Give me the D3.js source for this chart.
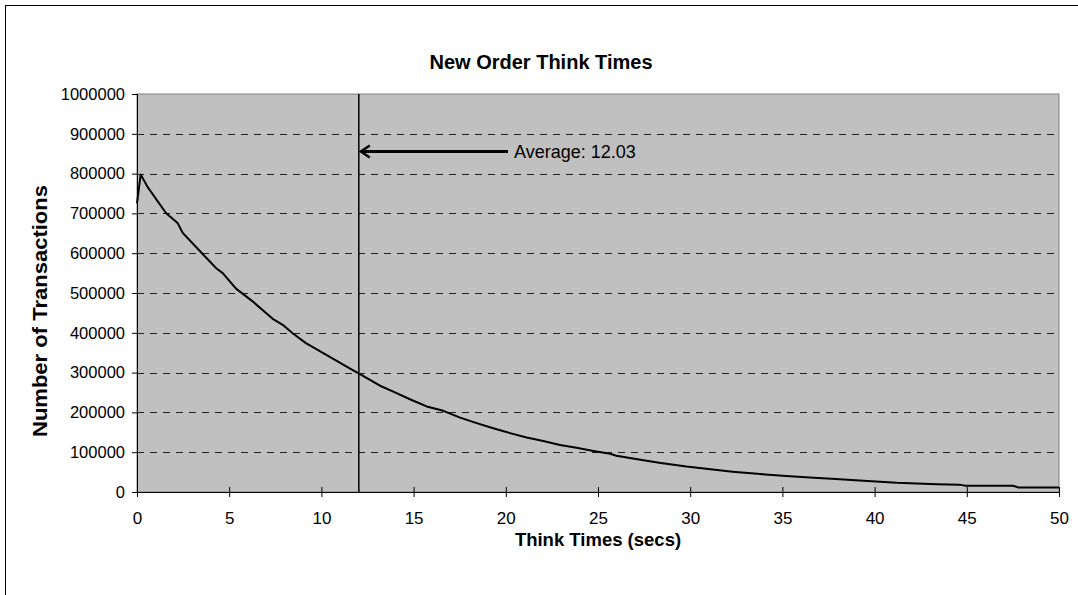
<!DOCTYPE html>
<html>
<head>
<meta charset="utf-8">
<script src="https://cdn.jsdelivr.net/npm/d3@7"></script>
<style>
  html, body { margin: 0; padding: 0; background: #fff; }
  svg { display: block; font-family: "Liberation Sans", Arial, sans-serif; }
</style>
</head>
<body>
<svg id="chart" width="1078" height="595"></svg>
<script>
// ---- Data ----
const thinkTimes = [0, 0.2, 0.58, 1.57, 2.2, 2.48, 3.56, 4.28, 4.65, 5.37, 6.27, 7.36, 7.9, 8.44, 9.16,
  10.43, 11.51, 12.09, 13.18, 13.9, 14.8, 15.71, 16.61, 17.52, 18.42, 19.32, 20.23, 21.13, 22.03,
  22.94, 23.84, 24.75, 25.65, 26.0, 27.3, 28.4, 29.8, 31.1, 32.3, 33.8, 35.2, 36.7, 37.9, 39.4,
  41.2, 43.4, 44.6, 44.9, 47.5, 47.8, 50];
const transactions = [725000, 798000, 766000, 701000, 676000, 651000, 598000, 563000, 550000, 511000,
  479000, 435000, 420000, 399000, 374000, 340000, 311000, 296000, 267000, 252000, 233000, 215000,
  204000, 187000, 173000, 160000, 148000, 137000, 128000, 118000, 111000, 103000, 96000, 91000,
  81000, 73000, 64000, 57000, 51000, 45000, 40000, 36000, 32500, 28000, 23000, 19500, 18500,
  16000, 15500, 11500, 11000];
const averageThink = 12.03;
const xTicks = [0, 5, 10, 15, 20, 25, 30, 35, 40, 45, 50];
const yTicks = [0, 100000, 200000, 300000, 400000, 500000, 600000, 700000, 800000, 900000, 1000000];
const titleText = "New Order Think Times";
const xLabel = "Think Times (secs)";
const yLabel = "Number of Transactions";
const averageLabel = "Average: 12.03";

// ---- Layout ----
const svg = d3.select("#chart");
const L = 137, R = 1059, T = 94, B = 492;
const FONT = "'Liberation Sans', Arial, sans-serif";

// outer frame
svg.append("rect").attr("x", 5.5).attr("y", 5.5).attr("width", 1090).attr("height", 600)
  .attr("fill", "#fff").attr("stroke", "#000").attr("stroke-width", 1);

const x = d3.scaleLinear().domain([0, 50]).range([L, R]);
const y = d3.scaleLinear().domain([0, 1000000]).range([B, T]);

// plot background
svg.append("rect").attr("x", L).attr("y", T).attr("width", R - L).attr("height", B - T)
  .attr("fill", "#c0c0c0").attr("stroke", "#808080").attr("stroke-width", 1);

// gridlines
svg.append("g").selectAll("line").data(yTicks.filter(d => d > 0 && d < 1000000)).join("line")
  .attr("x1", L).attr("x2", R)
  .attr("y1", d => Math.round(y(d)) + 0.5).attr("y2", d => Math.round(y(d)) + 0.5)
  .attr("stroke", "#222").attr("stroke-width", 1).attr("stroke-dasharray", "7,6");

// data line
const line = d3.line().x((d, i) => x(thinkTimes[i])).y(d => y(d));
svg.append("path").datum(transactions).attr("d", line)
  .attr("fill", "none").attr("stroke", "#000").attr("stroke-width", 2).attr("stroke-linejoin", "round");

// average vertical line
svg.append("line").attr("x1", x(averageThink)).attr("x2", x(averageThink))
  .attr("y1", T).attr("y2", B).attr("stroke", "#000").attr("stroke-width", 1.5);

// axes
const yAxis = d3.axisLeft(y).tickValues(yTicks).tickFormat(d3.format("d")).tickSize(5).tickPadding(7);
const gy = svg.append("g").attr("transform", `translate(${L},0)`).call(yAxis);
gy.select(".domain").attr("stroke", "#000").attr("d", `M0.5,${T}V${B}`);
gy.selectAll(".tick line").attr("stroke", "#000");
gy.selectAll(".tick text").attr("font-size", 16.5).attr("fill", "#000").attr("font-family", FONT);

const xAxis = d3.axisBottom(x).tickValues(xTicks).tickFormat(d3.format("d")).tickSize(5).tickPadding(15);
const gx = svg.append("g").attr("transform", `translate(0,${B})`).call(xAxis);
gx.select(".domain").attr("stroke", "#000").attr("d", `M${L},0.5H${R}`);
gx.selectAll(".tick line").attr("stroke", "#000").attr("y1", -5).attr("y2", 5);
gx.selectAll(".tick text").attr("font-size", 17).attr("fill", "#000").attr("font-family", FONT);

// arrow annotation
const ay = 151.5;
const tipX = x(averageThink) + 2;
svg.append("line").attr("x1", 508).attr("x2", tipX + 1).attr("y1", ay).attr("y2", ay)
  .attr("stroke", "#000").attr("stroke-width", 3);
svg.append("path").attr("d", `M${tipX + 9},${ay - 6}L${tipX},${ay}L${tipX + 9},${ay + 6}`)
  .attr("fill", "none").attr("stroke", "#000").attr("stroke-width", 2.5)
  .attr("stroke-linejoin", "miter");
svg.append("text").attr("x", 514).attr("y", ay + 6).attr("font-size", 18).attr("fill", "#000")
  .text(averageLabel);

// title and axis labels
svg.append("text").attr("x", 541).attr("y", 69).attr("text-anchor", "middle")
  .attr("font-size", 20).attr("font-weight", "bold").text(titleText);
svg.append("text").attr("x", 598).attr("y", 546).attr("text-anchor", "middle")
  .attr("font-size", 18.5).attr("font-weight", "bold").text(xLabel);
svg.append("text").attr("transform", `translate(47,311) rotate(-90)`).attr("text-anchor", "middle")
  .attr("font-size", 20.5).attr("font-weight", "bold")
  .attr("textLength", 252).attr("lengthAdjust", "spacingAndGlyphs").text(yLabel);
</script>
</body>
</html>
